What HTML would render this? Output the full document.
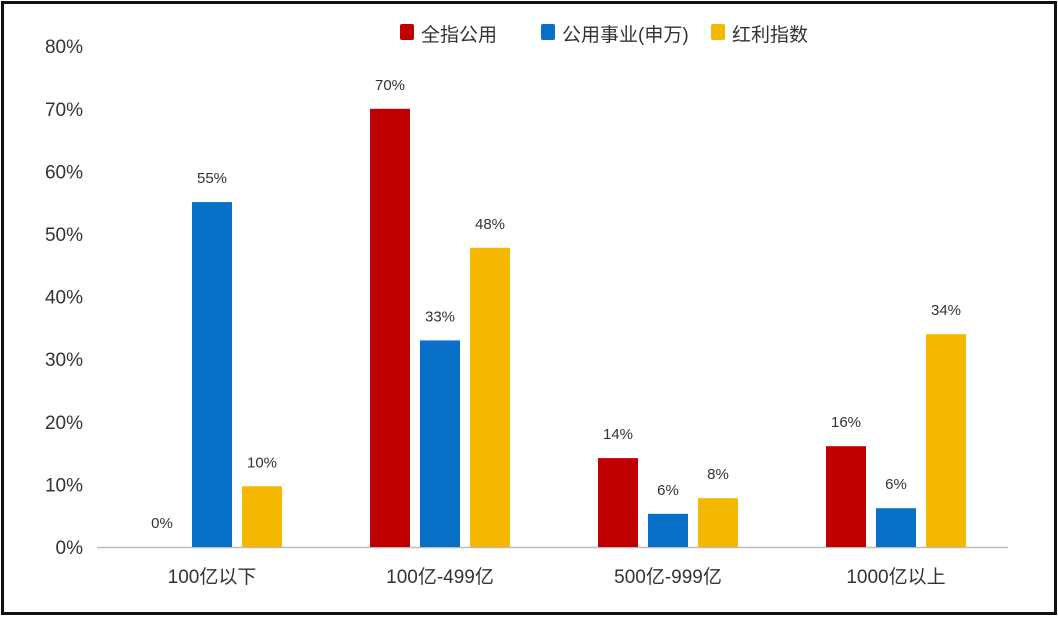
<!DOCTYPE html>
<html><head><meta charset="utf-8"><style>
body{margin:0;background:#fff;width:1058px;height:626px;overflow:hidden}
#frame{position:absolute;left:1px;top:1px;width:1050px;height:608px;border:3px solid #111;background:#fff}
svg{position:absolute;left:0;top:0}
text{font-family:"Liberation Sans","Noto Sans CJK SC",sans-serif}
</style></head><body>
<div id="frame"></div>
<svg id="chart" width="1058" height="626"></svg>
<script>
const categories=["100亿以下","100亿-499亿","500亿-999亿","1000亿以上"];
const seriesNames=["全指公用","公用事业(申万)","红利指数"];
const seriesColors=["#c00000","#0870c8","#f5b800"];
const s1=[0,70,14.2,16.1];
const s2=[55.1,33,5.3,6.2];
const s3=[9.7,47.8,7.8,34];
const l1=["0%","70%","14%","16%"];
const l2=["55%","33%","6%","6%"];
const l3=["10%","48%","8%","34%"];
const yTicks=[0,10,20,30,40,50,60,70,80];
const series=[s1,s2,s3],labels=[l1,l2,l3];
const svg=document.getElementById('chart');const NS="http://www.w3.org/2000/svg";
function el(t,a,p){const e=document.createElementNS(NS,t);for(const k in a)e.setAttribute(k,a[k]);(p||svg).appendChild(e);return e;}
const y=v=>547-v*6.26;
const xc=i=>212+i*228;
yTicks.forEach(t=>{const e=el('text',{x:83,y:y(t)+7,'text-anchor':'end','font-size':19,fill:'#333'});e.textContent=t+'%';

});
const ax=el('line',{x1:97,x2:1008,y1:547.5,y2:547.5,stroke:'#bbb','stroke-width':1.5});


categories.forEach((c,i)=>{const e=el('text',{x:xc(i),y:583,'text-anchor':'middle','font-size':19,fill:'#333'});e.textContent=c;


series.forEach((s,j)=>{const cx=xc(i)+(j-1)*50;const v=s[i];
const r=el('rect',{x:cx-20,y:y(v),width:40,height:547-y(v),fill:seriesColors[j]});


const t=el('text',{x:cx,y:y(v)-19,'text-anchor':'middle','font-size':15,fill:'#333'});t.textContent=labels[j][i];

});});
const lx=[400,541,711];
seriesNames.forEach((n,j)=>{const r=el('rect',{x:lx[j],y:24,width:14,height:16,rx:2,fill:seriesColors[j]});


const t=el('text',{x:lx[j]+21,y:41,'font-size':19,fill:'#333'});t.textContent=n;

});
</script>
</body></html>
